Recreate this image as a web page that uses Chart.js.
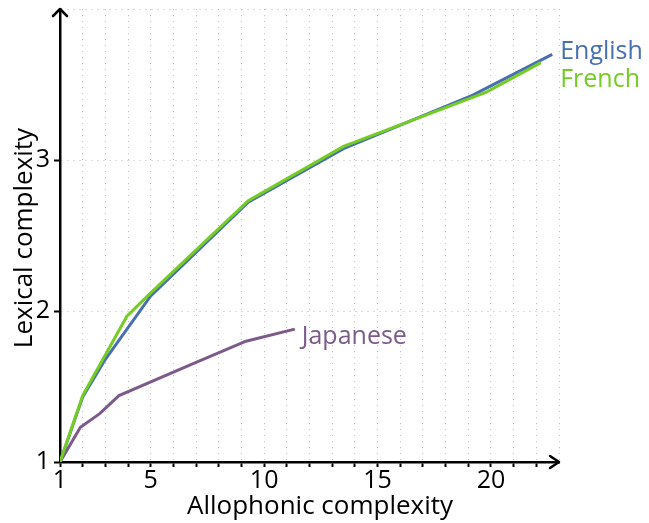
<!DOCTYPE html>
<html>
<head>
<meta charset="utf-8">
<script src="https://cdn.jsdelivr.net/npm/chart.js@4/dist/chart.umd.min.js"></script>
<style>
  html, body { margin: 0; padding: 0; background: #fff; }
  #wrap { width: 649px; height: 523px; }
</style>
</head>
<body>
<div id="wrap"><canvas id="c" width="649" height="523"></canvas></div>
<script>
// ---- data ----
const seriesNames = ["English", "French", "Japanese"];
const englishX = [1, 2, 3, 5, 9.3, 13.5, 19.2, 22.7];
const englishY = [1, 1.43, 1.68, 2.10, 2.72, 3.075, 3.43, 3.70];
const frenchX  = [1, 2, 3.95, 5, 9.3, 13.5, 19.8, 22.2];
const frenchY  = [1, 1.44, 1.965, 2.12, 2.73, 3.09, 3.45, 3.645];
const japaneseX = [1, 1.9, 2.75, 3.6, 7, 9.2, 11.35];
const japaneseY = [1, 1.23, 1.32, 1.44, 1.66, 1.80, 1.88];
const xTickLabels = [1, 5, 10, 15, 20];
const yTickLabels = [1, 2, 3];

const colors = { English: "#4870b0", French: "#74cc24", Japanese: "#7c5a8a" };
const FONT = "'Open Sans'";

function pts(xs, ys) { return xs.map((x, i) => ({ x: x, y: ys[i] })); }

const arrowPlugin = {
  id: "arrowsAndLabels",
  afterDraw(chart) {
    const ctx = chart.ctx;
    const a = chart.chartArea;
    ctx.save();
    ctx.strokeStyle = "#000";
    ctx.lineWidth = 2.5;
    ctx.lineCap = "round";
    ctx.lineJoin = "round";
    // x arrow
    ctx.beginPath();
    ctx.moveTo(a.right - 9, a.bottom - 6);
    ctx.lineTo(a.right, a.bottom);
    ctx.lineTo(a.right - 9, a.bottom + 6);
    ctx.stroke();
    // y arrow
    ctx.beginPath();
    ctx.moveTo(a.left - 7, a.top + 7);
    ctx.lineTo(a.left, a.top);
    ctx.lineTo(a.left + 7, a.top + 7);
    ctx.stroke();

    // axis titles
    ctx.fillStyle = "#000";
    ctx.font = "26px " + FONT;
    ctx.textAlign = "center";
    ctx.textBaseline = "alphabetic";
    ctx.fillText("Allophonic complexity", 320, 514);
    ctx.save();
    ctx.translate(32, 238);
    ctx.rotate(-Math.PI / 2);
    ctx.fillText("Lexical complexity", 0, 0);
    ctx.restore();

    // series labels
    ctx.font = "25px " + FONT;
    const xs = chart.scales.x, ys = chart.scales.y;
    ctx.textAlign = "left";
    const ePx = xs.getPixelForValue(englishX[englishX.length - 1]);
    const ePy = ys.getPixelForValue(englishY[englishY.length - 1]);
    const jPx = xs.getPixelForValue(japaneseX[japaneseX.length - 1]);
    const jPy = ys.getPixelForValue(japaneseY[japaneseY.length - 1]);
    ctx.fillStyle = colors.English;
    ctx.fillText(seriesNames[0], ePx + 8, ePy + 5);
    ctx.fillStyle = colors.French;
    ctx.fillText(seriesNames[1], ePx + 8, ePy + 33);
    ctx.fillStyle = colors.Japanese;
    ctx.fillText(seriesNames[2], jPx + 7, jPy + 15);
    ctx.restore();
  }
};

const gridColor = (skipVal) => (c) => (c.tick && c.tick.value === skipVal) ? "rgba(0,0,0,0)" : "#bdbdbd";

new Chart(document.getElementById("c"), {
  type: "line",
  data: {
    datasets: [
      { label: seriesNames[1], data: pts(frenchX, frenchY), borderColor: colors.French, order: 0 },
      { label: seriesNames[0], data: pts(englishX, englishY), borderColor: colors.English, order: 1 },
      { label: seriesNames[2], data: pts(japaneseX, japaneseY), borderColor: colors.Japanese, order: 2 }
    ]
  },
  options: {
    responsive: false,
    animation: false,
    devicePixelRatio: 1,
    layout: { padding: { left: 0, right: 90, top: 9, bottom: 0 } },
    elements: {
      line: { borderWidth: 3, tension: 0, fill: false, borderCapStyle: "butt", borderJoinStyle: "miter" },
      point: { radius: 0, hoverRadius: 0 }
    },
    plugins: { legend: { display: false }, tooltip: { enabled: false } },
    scales: {
      x: {
        type: "linear",
        min: 1, max: 23,
        afterFit(s) { s.height = 61; s.paddingLeft = 0; s.paddingRight = 0; },
        border: { display: true, color: "#000", width: 2.5, dash: [1, 5] },
        grid: {
          color: gridColor(1),
          lineWidth: 1,
          drawTicks: true,
          tickLength: 5,
          tickWidth: 2,
          tickBorderDash: [],
          tickColor: (c) => (c.tick && c.tick.value === 23) ? "rgba(0,0,0,0)" : "#000"
        },
        ticks: {
          stepSize: 1,
          autoSkip: false,
          maxRotation: 0,
          padding: 0,
          color: "#000",
          font: { family: FONT, size: 25, lineHeight: 1.1 },
          callback: (v) => xTickLabels.includes(v) ? String(v) : ""
        }
      },
      y: {
        type: "linear",
        min: 1, max: 4,
        afterFit(s) { s.width = 60; s.paddingTop = 0; s.paddingBottom = 0; },
        border: { display: true, color: "#000", width: 2.5, dash: [1, 5] },
        grid: {
          color: gridColor(1),
          lineWidth: 1,
          drawTicks: true,
          tickLength: 6,
          tickWidth: 2,
          tickBorderDash: [],
          tickColor: (c) => (c.tick && c.tick.value === 4) ? "rgba(0,0,0,0)" : "#000"
        },
        ticks: {
          stepSize: 1,
          autoSkip: false,
          padding: 4,
          color: "#000",
          font: { family: FONT, size: 25 },
          callback: (v) => yTickLabels.includes(v) ? String(v) : ""
        }
      }
    }
  },
  plugins: [arrowPlugin]
});
</script>
</body>
</html>
